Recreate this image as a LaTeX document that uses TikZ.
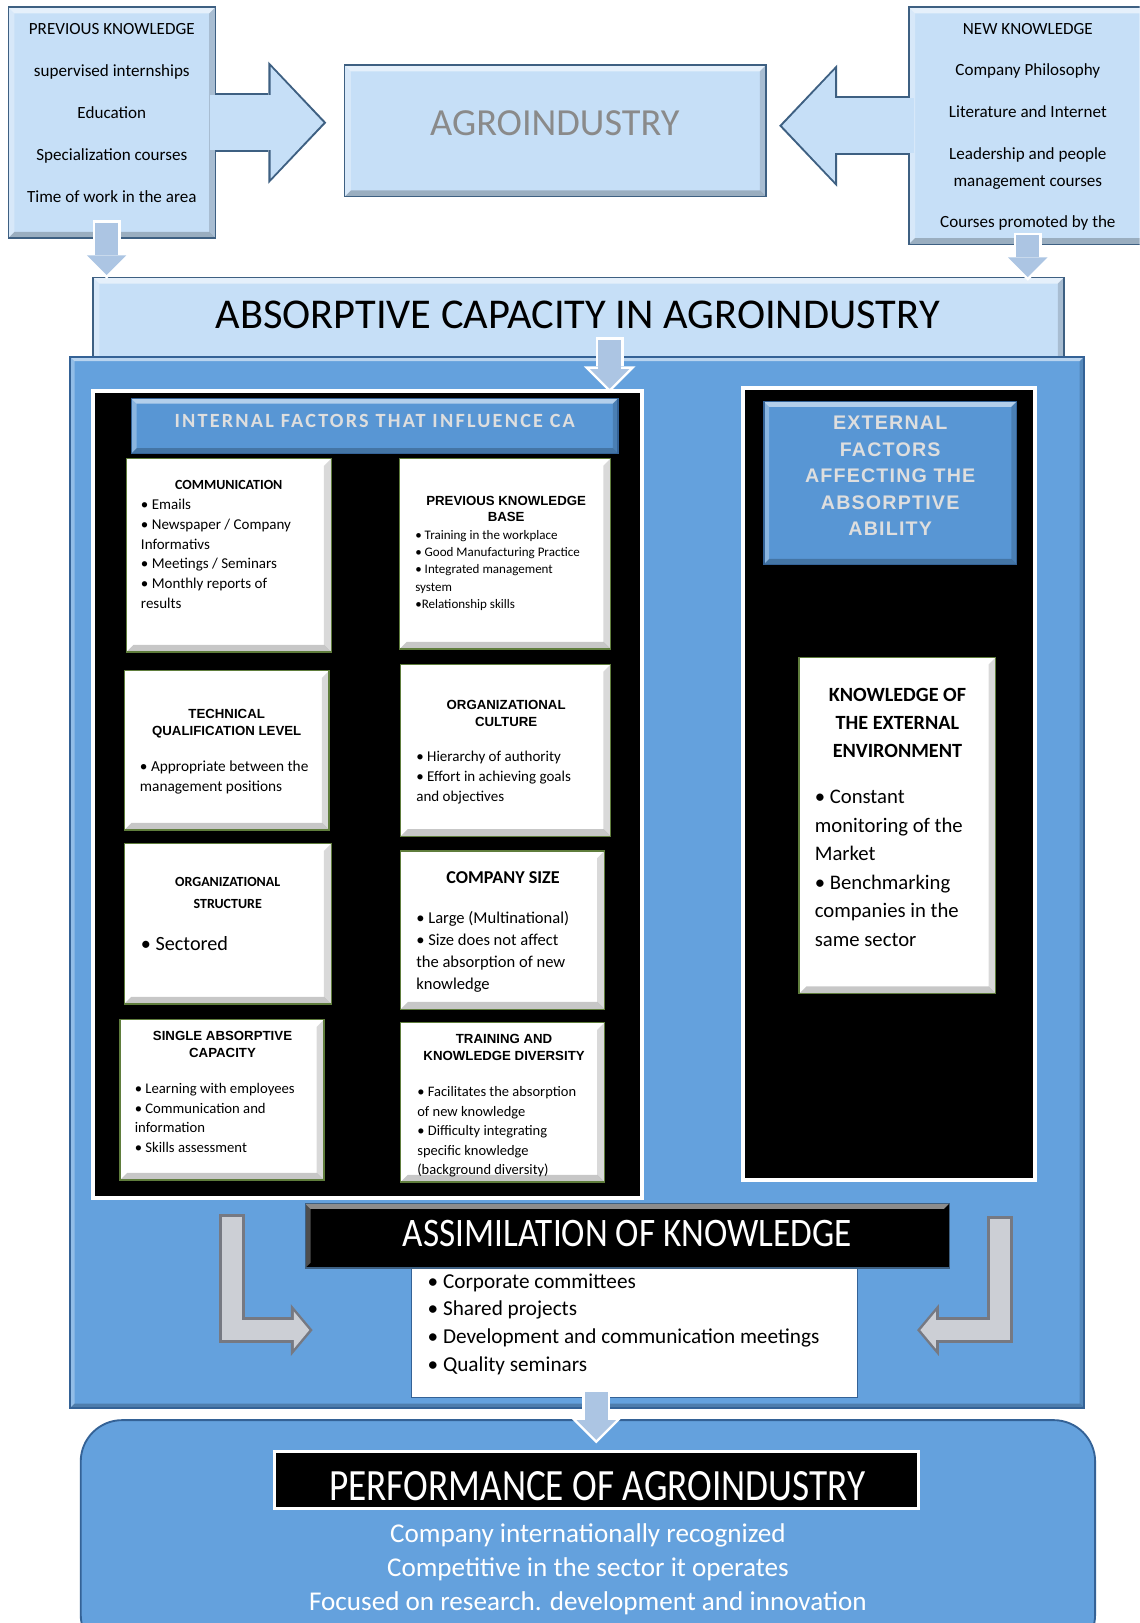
\documentclass[tikz,border=0pt]{standalone}
\usepackage{fontspec}
\usepackage{graphicx}
\setmainfont{Carlito}
\newfontfamily\arialfont{Liberation Sans}
\newfontfamily\trackfont[LetterSpace=11]{Carlito}
\newfontfamily\widefont[LetterSpace=6]{Liberation Sans}
\usetikzlibrary{arrows.meta,calc}

\newcommand{\fsz}[1]{\fontsize{#1}{#1}\selectfont}

\definecolor{paleblue}{RGB}{198,223,247}
\definecolor{paleedge}{RGB}{62,96,130}
\definecolor{midblue}{RGB}{100,161,221}
\definecolor{midedge}{RGB}{52,98,150}
\definecolor{bannerblue}{RGB}{88,150,212}
\definecolor{arrowblue}{RGB}{172,197,227}
\definecolor{boxedge}{RGB}{95,125,60}
\definecolor{steelgray}{RGB}{204,207,213}
\definecolor{steeledge}{RGB}{118,121,130}
\definecolor{fadegray}{RGB}{138,138,138}
\definecolor{softwhite}{RGB}{222,222,222}

\begin{document}
\begin{tikzpicture}[x=1pt, y=-1pt,
    span/.style n args={4}{at={({(#1+#3)/2},{(#2+#4)/2})},
      minimum width={#3-#1}, minimum height={#4-#2}, inner sep=0pt},
    bevel/.style={path picture={
      \fill[white, opacity=.55] (path picture bounding box.north west) -- (path picture bounding box.north east)
        -- ([xshift=-#1pt, yshift=-#1pt]path picture bounding box.north east)
        -- ([xshift=#1pt, yshift=-#1pt]path picture bounding box.north west) -- cycle;
      \fill[white, opacity=.3] (path picture bounding box.north west) -- (path picture bounding box.south west)
        -- ([xshift=#1pt, yshift=#1pt]path picture bounding box.south west)
        -- ([xshift=#1pt, yshift=-#1pt]path picture bounding box.north west) -- cycle;
      \fill[black, opacity=.22] (path picture bounding box.south west) -- (path picture bounding box.south east)
        -- ([xshift=-#1pt, yshift=#1pt]path picture bounding box.south east)
        -- ([xshift=#1pt, yshift=#1pt]path picture bounding box.south west) -- cycle;
      \fill[black, opacity=.15] (path picture bounding box.north east) -- (path picture bounding box.south east)
        -- ([xshift=-#1pt, yshift=#1pt]path picture bounding box.south east)
        -- ([xshift=-#1pt, yshift=-#1pt]path picture bounding box.north east) -- cycle;
    }},
    bevel/.default=6,
    lightbox/.style={draw=paleedge, line width=1.5pt, fill=paleblue, bevel},
    panel/.style={draw=midedge, line width=1.8pt, fill=midblue},
    blackpanel/.style={draw=white, line width=4pt, fill=black},
    banner/.style={draw=midedge, line width=1.2pt, fill=bannerblue, bevel=5},
    factor/.style={draw=boxedge, line width=1.3pt, fill=white, bevel=7},
    txt/.style={inner sep=0pt, anchor=base},
    ltxt/.style={inner sep=0pt, anchor=base west},
    bigout/.style={line width=57pt, draw=paleedge, -{Triangle[length=56pt,width=118pt,line width=0pt]}},
    bigin/.style={line width=53pt, draw=paleblue, -{Triangle[length=51pt,width=108pt,line width=0pt]}},
    downout/.style={line width=27pt, draw=white, -{Triangle[length=25pt,width=50pt,line width=0pt]}},
    downin/.style={line width=22pt, draw=arrowblue, -{Triangle[length=19pt,width=38pt,line width=0pt]},
      shorten >=3.5pt, shorten <=2.5pt},
    bentout/.style={line width=25pt, draw=steeledge, line join=miter, -{Triangle[length=21pt,width=50pt,line width=0pt]}},
    bentin/.style={line width=20pt, draw=steelgray, line join=miter, -{Triangle[length=15pt,width=36pt,line width=0pt]},
      shorten >=3.2pt, shorten <=2.5pt}
  ]
    \useasboundingbox (0,0) rectangle (1101,1568);
    \clip (0,0) rectangle (1101,1568);
    \fill[white] (0,0) rectangle (1101,1568);

    % Sources of knowledge
    \node[lightbox, span={8}{7}{208}{230}] (prevk) {};
    \node[lightbox, span={878}{7}{1108}{236}] (newk) {};
    \node[lightbox, span={333}{63}{740}{190}] (agro) {};
    \node[txt, font=\fsz{37}, text=fadegray] (agrot) at (536,131) {AGROINDUSTRY};

    \draw[bigout, shorten <=-1pt, shorten >=17pt] (prevk.east) -- (prevk.east -| agro.west);
    \draw[bigin, shorten <=-6pt, shorten >=19.8pt] (prevk.east) -- (prevk.east -| agro.west);
    \draw[bigout, shorten <=-1pt, shorten >=12pt] (newk.west) -- (newk.west -| agro.east);
    \draw[bigin, shorten <=-6pt, shorten >=14.8pt] (newk.west) -- (newk.west -| agro.east);

    \foreach \t [count=\i from 0] in {PREVIOUS KNOWLEDGE, supervised internships, Education,
        Specialization courses, Time of work in the area}
      \node[txt, font=\fsz{16.5}] (prevk-\i) at (108,{33.3+40.5*\i}) {\t};
    \foreach \y/\t [count=\i] in {33/NEW KNOWLEDGE, 73/Company Philosophy, 114/Literature and Internet,
        154/Leadership and people, 180/management courses, 220/Courses promoted by the}
      \node[txt, font=\fsz{16.5}] (newk-\i) at (993,\y) {\t};

    % Absorptive capacity
    \node[lightbox, span={90}{268}{1028}{362}] (absorb) {};
    \node[txt, font=\fsz{41}] (absorbt) at (558,317) {ABSORPTIVE CAPACITY IN AGROINDUSTRY};
    \draw[downout] ($(prevk.south)+(-5,-18)$) -- ($(prevk.south |- absorb.north)+(-5,2)$);
    \draw[downin] ($(prevk.south)+(-5,-18)$) -- ($(prevk.south |- absorb.north)+(-5,2)$);
    \draw[downout] ($(newk.south)+(0,-12)$) -- ($(newk.south |- absorb.north)+(0,4)$);
    \draw[downin] ($(newk.south)+(0,-12)$) -- ($(newk.south |- absorb.north)+(0,4)$);

    \node[panel, bevel=4, span={68}{345}{1047}{1360}] (capa) {};

    % Internal factors
    \node[blackpanel, span={90}{378}{620}{1157}] (inpanel) {};
    \draw[downout] ($(inpanel.north east)+(-33,-50)$) -- ($(inpanel.north east)+(-33,3)$);
    \draw[downin] ($(inpanel.north east)+(-33,-50)$) -- ($(inpanel.north east)+(-33,3)$);
    \node[banner, span={127}{385}{597}{438}] (inhead) {};
    \node[txt, font=\trackfont\bfseries\fsz{19.5}, text=softwhite] (inheadt) at (362,413)
      {INTERNAL FACTORS THAT INFLUENCE CA};

    \node[factor, span={122}{443}{320}{630}] (comm) {};
    \node[txt, font=\bfseries\fsz{13.5}] (comm-t) at (221,472.5) {COMMUNICATION};
    \foreach \t [count=\i from 0] in {• Emails, • Newspaper / Company, Informativs,
        • Meetings / Seminars, • Monthly reports of, results}
      \node[ltxt, font=\fsz{14.5}] (comm-\i) at (136,{492.5+19*\i}) {\t};

    \node[factor, span={386}{443}{590}{627}] (base) {};
    \foreach \t [count=\i from 0] in {PREVIOUS KNOWLEDGE, BASE}
      \node[txt, font=\arialfont\bfseries\fsz{12.8}] (base-t\i) at (489,{488.6+15*\i}) {\t};
    \foreach \t [count=\i from 0] in {• Training in the workplace, • Good Manufacturing Practice,
        • Integrated management, system, •Relationship skills}
      \node[ltxt, font=\fsz{12.6}] (base-\i) at (401,{521+16.75*\i}) {\t};

    \node[factor, span={120}{648}{318}{802}] (tech) {};
    \foreach \t [count=\i from 0] in {TECHNICAL, QUALIFICATION LEVEL}
      \node[txt, font=\arialfont\bfseries\fsz{12.8}] (tech-t\i) at (219,{694.6+16*\i}) {\t};
    \foreach \t [count=\i from 0] in {• Appropriate between the, management positions}
      \node[ltxt, font=\fsz{14.8}] (tech-\i) at (135,{745.7+19*\i}) {\t};

    \node[factor, span={120}{815}{320}{970}] (struct) {};
    \foreach \t [count=\i from 0] in {ORGANIZATIONAL, STRUCTURE}
      \node[txt, font=\bfseries\fsz{13.5}] (struct-t\i) at (220,{856.4+21*\i}) {\t};
    \node[ltxt, font=\fsz{19.5}] (struct-0) at (136,918.2) {• Sectored};

    \node[factor, span={116}{985}{313}{1140}] (single) {};
    \foreach \t [count=\i from 0] in {SINGLE ABSORPTIVE, CAPACITY}
      \node[txt, font=\arialfont\bfseries\fsz{12.8}] (single-t\i) at (215,{1005.6+16*\i}) {\t};
    \foreach \t [count=\i from 0] in {• Learning with employees, • Communication and, information,
        • Skills assessment}
      \node[ltxt, font=\fsz{14.2}] (single-\i) at (130,{1056.5+19*\i}) {\t};

    \node[factor, span={387}{642}{590}{808}] (culture) {};
    \foreach \t [count=\i from 0] in {ORGANIZATIONAL, CULTURE}
      \node[txt, font=\arialfont\bfseries\fsz{12.8}] (culture-t\i) at (489,{685.6+16*\i}) {\t};
    \foreach \t [count=\i from 0] in {• Hierarchy of authority, • Effort in achieving goals, and objectives}
      \node[ltxt, font=\fsz{14.5}] (culture-\i) at (402,{735.6+19.5*\i}) {\t};

    \node[factor, span={387}{822}{584}{975}] (size) {};
    \node[txt, font=\bfseries\fsz{17.5}] (size-t) at (486,853.6) {COMPANY SIZE};
    \foreach \t [count=\i from 0] in {• Large (Multinational), • Size does not affect,
        the absorption of new, knowledge}
      \node[ltxt, font=\fsz{16}] (size-\i) at (402,{892.1+21.3*\i}) {\t};

    \node[factor, span={387}{988}{584}{1142}] (train) {};
    \foreach \t [count=\i from 0] in {TRAINING AND, KNOWLEDGE DIVERSITY}
      \node[txt, font=\arialfont\bfseries\fsz{12.8}] (train-t\i) at (487,{1008.6+16*\i}) {\t};
    \foreach \t [count=\i from 0] in {• Facilitates the absorption, of new knowledge,
        • Difficulty integrating, specific knowledge, (background diversity)}
      \node[ltxt, font=\fsz{14}] (train-\i) at (403,{1059.5+18.8*\i}) {\t};

    % External factors
    \node[blackpanel, span={718}{375}{1000}{1140}] (expanel) {};
    \node[banner, span={738}{388}{982}{545}] (exhead) {};
    \foreach \t [count=\i from 0] in {EXTERNAL, FACTORS, AFFECTING THE, ABSORPTIVE, ABILITY}
      \node[txt, font=\widefont\bfseries\fsz{19}, text=softwhite] (exhead-\i) at (860,{414.8+25.75*\i}) {\t};

    \node[factor, span={772}{635}{962}{960}] (extenv) {};
    \foreach \t [count=\i from 0] in {KNOWLEDGE OF, THE EXTERNAL, ENVIRONMENT}
      \node[txt, font=\bfseries\fsz{19.5}] (extenv-t\i) at (867,{677.3+27.5*\i}) {\t};
    \foreach \t [count=\i from 0] in {• Constant, monitoring of the, Market, • Benchmarking,
        companies in the, same sector}
      \node[ltxt, font=\fsz{20}] (extenv-\i) at (787,{776.4+27.6*\i}) {\t};

    % Assimilation
    \node[draw=midedge, line width=1pt, fill=white, span={398}{1225}{828}{1350}] (assimlist) {};
    \node[draw=paleedge, line width=1.2pt, fill=black, bevel=5, span={295}{1163}{917}{1225}] (assim) {};
    \node[txt, font=\fsz{34}, text=white] (assimt) at (606,1204) {\scalebox{1}[1.15]{ASSIMILATION OF KNOWLEDGE}};
    \foreach \t [count=\i from 0] in {• Corporate committees, • Shared projects,
        • Development and communication meetings, • Quality seminars}
      \node[ltxt, font=\fsz{20.5}] (assimlist-\i) at (413,{1244.5+26.7*\i}) {\t};

    \coordinate (ltop) at (224,1173);
    \coordinate (ltip) at (302,1285);
    \coordinate (rtop) at (966,1175);
    \coordinate (rtip) at (886,1285);
    \draw[bentout] (ltop) |- (ltip);
    \draw[bentin] (ltop) |- (ltip);
    \draw[bentout] (rtop) |- (rtip);
    \draw[bentin] (rtop) |- (rtip);

    % Performance
    \node[panel, rounded corners=40pt, span={78}{1372}{1058}{1600}] (perf) {};
    \node[draw=white, line width=3pt, fill=black, span={265}{1402}{887}{1457}] (perfbox) {};
    \draw[downout] ($(perfbox.north)+(0,-58)$) -- ($(perfbox.north)+(0,-6)$);
    \draw[downin] ($(perfbox.north)+(0,-58)$) -- ($(perfbox.north)+(0,-6)$);
    \node[txt, font=\fsz{36}, text=white] (perft) at (577,1450) {\scalebox{1}[1.2]{PERFORMANCE OF AGROINDUSTRY}};
    \foreach \t [count=\i from 0] in {Company internationally recognized, Competitive in the sector it operates,
        Focused on research. development and innovation}
      \node[txt, font=\fsz{26.2}, text=white] (perf-\i) at (568,{1490.5+32.5*\i}) {\t};
\end{tikzpicture}
\end{document}
